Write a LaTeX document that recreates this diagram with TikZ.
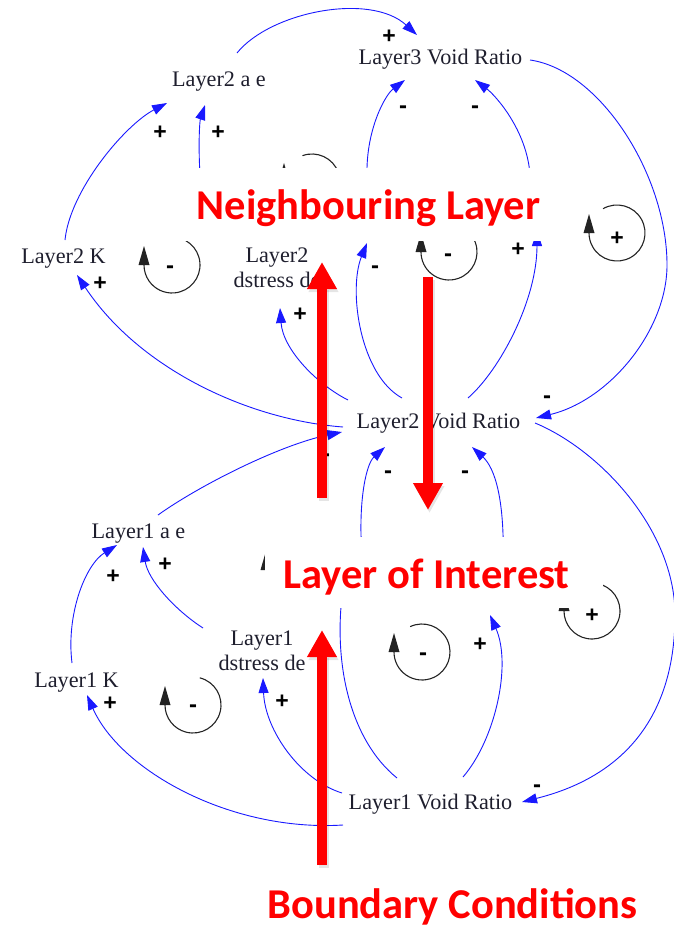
\documentclass[tikz,border=0pt]{standalone}
\usepackage{fontspec}
\setmainfont{Liberation Serif}
\newfontfamily\redfont{Carlito}
\newfontfamily\signfont{Liberation Sans}
\usetikzlibrary{arrows.meta}
\definecolor{vblue}{RGB}{25,25,255}
\definecolor{vtxt}{RGB}{30,30,45}
\definecolor{loopc}{RGB}{35,35,35}
\definecolor{redc}{RGB}{255,0,0}
\newcommand\cldloop[3]{%
  \draw[loopline] (#1,#2) ++(#3:28) arc[start angle=#3,end angle=180,radius=28];
  \fill[loopc] (#1-28,#2-19) -- (#1-22.5,#2) -- (#1-33.5,#2) -- cycle;}
\begin{document}
\begin{tikzpicture}[x=1pt,y=-1pt,
  vtext/.style={font=\fontsize{22.2}{25}\selectfont, text=vtxt, inner sep=0pt, anchor=base},
  link/.style={draw=vblue, line width=0.9pt, -{Triangle[length=15pt,width=10pt]}},
  plainlink/.style={draw=vblue, line width=0.9pt},
  loopline/.style={draw=loopc, line width=1.1pt},
  plus/.style={font=\signfont\bfseries\fontsize{23}{23}\selectfont, text=black, inner sep=0pt, anchor=base, yshift=-8pt},
  minus/.style={font=\signfont\bfseries\fontsize{24}{24}\selectfont, text=black, inner sep=0pt, anchor=base, yshift=-5.5pt},
  redlbl/.style={font=\redfont\bfseries\fontsize{42.5}{42.5}\selectfont, text=redc, inner sep=0pt, anchor=base},
  redarr/.style={draw=redc, line width=10pt, -{Triangle[length=27pt,width=28pt]}},
  redshadow/.style={draw=black, opacity=0.10, line width=10pt, -{Triangle[length=27pt,width=28pt]}},
  cover/.style={fill=white, draw=none}]
\useasboundingbox (0,0) rectangle (673,928);

% ---------------- text nodes ----------------
\node[vtext] (L3VR) at (440.5,65) {Layer3 Void Ratio};
\node[vtext] (L2ae) at (219,87) {Layer2 a e};
\node[vtext] (L2K) at (63.5,263) {Layer2 K};
\node[vtext] (L2ds) at (277,262) {\begin{tabular}[t]{@{}c@{}}Layer2\\dstress de\end{tabular}};
\node[vtext] (L2VR) at (438.5,428) {Layer2 Void Ratio};
\node[vtext] (L1ae) at (138.5,538) {Layer1 a e};
\node[vtext] (L1K) at (76.5,687) {Layer1 K};
\node[vtext] (L1ds) at (262,645) {\begin{tabular}[t]{@{}c@{}}Layer1\\dstress de\end{tabular}};
\node[vtext] (L1VR) at (430.5,809) {Layer1 Void Ratio};

% ---------------- connector end points ----------------
\coordinate (l2aeTop) at (237,53);
\coordinate (l3In) at (417,35);
\coordinate (l3Out) at (530,60);
\coordinate (l2InR) at (536,418);
\coordinate (hA) at (367,175);
\coordinate (l3InL) at (405,80);
\coordinate (hB) at (530,175);
\coordinate (l3InR) at (475,80);
\coordinate (hC) at (200,175);
\coordinate (l2aeIn2) at (205,105);
\coordinate (l2kTop) at (65,240);
\coordinate (l2aeIn1) at (167,103);
\coordinate (l2vrL) at (343,427);
\coordinate (l2kIn) at (77,275);
\coordinate (l2vrUL) at (348,400);
\coordinate (l2dsIn) at (280,308);
\coordinate (l2vrT1) at (402,398);
\coordinate (hD) at (367,243);
\coordinate (l2vrT2) at (468,398);
\coordinate (hE) at (537,231);
\coordinate (hF) at (363,565);
\coordinate (l2vrB1) at (385,447);
\coordinate (hG) at (503,565);
\coordinate (l2vrB2) at (472,447);
\coordinate (l1aeTop) at (158,515);
\coordinate (l2vrInL) at (342,432);
\coordinate (l2vrR) at (535,423);
\coordinate (l1vrInR) at (522,802);
\coordinate (l1kTop) at (72,663);
\coordinate (l1aeIn1) at (117,545);
\coordinate (l1dsTop) at (203,628);
\coordinate (l1aeIn2) at (143,547);
\coordinate (l1vrBL) at (343,825);
\coordinate (l1kIn) at (87,695);
\coordinate (l1vrL) at (342,793);
\coordinate (l1dsIn) at (263,678);
\coordinate (l1vrT1) at (397,778);
\coordinate (hH) at (345,575);
\coordinate (l1vrT2) at (463,777);
\coordinate (hI) at (490,615);

% ---------------- blue connectors ----------------
\draw[link] (l2aeTop) .. controls (270,12) and (370,-8) .. (l3In);
\draw[link] (l3Out) .. controls (600,70) and (667,175) .. (667,265) .. controls (667,330) and (610,400) .. (l2InR);
\draw[link] (hA) .. controls (366,130) and (385,95) .. (l3InL);
\draw[link] (hB) .. controls (527,130) and (495,95) .. (l3InR);
\draw[link] (hC) .. controls (198,140) and (200,120) .. (l2aeIn2);
\draw[link] (l2kTop) .. controls (70,190) and (125,125) .. (l2aeIn1);
\draw[link] (l2vrL) .. controls (250,420) and (140,370) .. (l2kIn);
\draw[link] (l2vrUL) .. controls (318,385) and (283,350) .. (l2dsIn);
\draw[link] (l2vrT1) .. controls (360,375) and (348,290) .. (hD);
\draw[link] (l2vrT2) .. controls (500,370) and (537,300) .. (hE);
\draw[link] (hF) .. controls (357,510) and (365,465) .. (l2vrB1);
\draw[link] (hG) .. controls (505,500) and (495,468) .. (l2vrB2);
\draw[link] (l1aeTop) .. controls (200,485) and (280,445) .. (l2vrInL);
\draw[link] (l2vrR) .. controls (600,450) and (675,530) .. (675,615) .. controls (675,710) and (630,775) .. (l1vrInR);
\draw[link] (l1kTop) .. controls (66,615) and (85,565) .. (l1aeIn1);
\draw[link] (l1dsTop) .. controls (175,610) and (148,580) .. (l1aeIn2);
\draw[link] (l1vrBL) .. controls (230,832) and (120,770) .. (l1kIn);
\draw[link] (l1vrL) .. controls (300,780) and (265,730) .. (l1dsIn);
\draw[plainlink] (l1vrT1) .. controls (350,740) and (330,660) .. (hH);
\draw[link] (l1vrT2) .. controls (495,740) and (512,665) .. (hI);

% ---------------- loop symbols ----------------
\cldloop{172}{265}{-95}
\cldloop{193}{705}{-76}
\cldloop{449}{252}{-110}
\cldloop{617}{233}{-120}
\cldloop{422}{652}{-115}
\cldloop{592}{611}{-80}
\cldloop{312}{182}{-110}
\cldloop{294}{570}{-100}

% ---------------- polarity signs ----------------
\node[plus] (s1) at (389,36) {+};
\node[minus] (s2) at (403,108) {-};
\node[minus] (s3) at (475,108) {-};
\node[plus] (s4) at (160,132) {+};
\node[plus] (s5) at (218,132) {+};
\node[minus] (s6) at (170,268) {-};
\node[plus] (s7) at (100,282) {+};
\node[plus] (s8) at (300,313) {+};
\node[minus] (s9) at (375,268) {-};
\node[minus] (s10) at (448,256) {-};
\node[plus] (s11) at (518,248) {+};
\node[plus] (s12) at (617,237) {+};
\node[minus] (s13) at (547,398) {-};
\node[minus] (s14) at (388,473) {-};
\node[minus] (s15) at (465,473) {-};
\node[minus] (s16) at (326,456) {-};
\node[plus] (s17) at (113,575) {+};
\node[plus] (s18) at (165,563) {+};
\node[plus] (s19) at (592,614) {+};
\node[minus] (s20) at (193,707) {-};
\node[plus] (s21) at (110,702) {+};
\node[plus] (s22) at (282,700) {+};
\node[minus] (s23) at (423,655) {-};
\node[plus] (s24) at (480,643) {+};
\node[minus] (s25) at (537,787) {-};

% ---------------- white label boxes ----------------
\fill[cover] (120,168) rectangle (563,241);
\fill[cover] (265,537) rectangle (603,608);

% ---------------- red labels ----------------
\node[redlbl] (NL) at (368.5,219) {Neighbouring Layer};
\node[redlbl] (LI) at (426.5,588) {Layer of Interest};
\node[redlbl] (BC) at (452.5,918) {Boundary Conditions};

% ---------------- red arrows ----------------
\coordinate (r1s) at (322,498);
\coordinate (r1e) at (322,262);
\coordinate (r2s) at (428,277);
\coordinate (r2e) at (428,510);
\coordinate (r3s) at (322,865);
\coordinate (r3e) at (322,630);
\draw[redshadow] ([shift={(1.5,3)}]r1s) -- ([shift={(1.5,3)}]r1e);
\draw[redshadow] ([shift={(1.5,3)}]r2s) -- ([shift={(1.5,3)}]r2e);
\draw[redshadow] ([shift={(1.5,3)}]r3s) -- ([shift={(1.5,3)}]r3e);
\draw[redarr] (r1s) -- (r1e);
\draw[redarr] (r2s) -- (r2e);
\draw[redarr] (r3s) -- (r3e);
\end{tikzpicture}
\end{document}
